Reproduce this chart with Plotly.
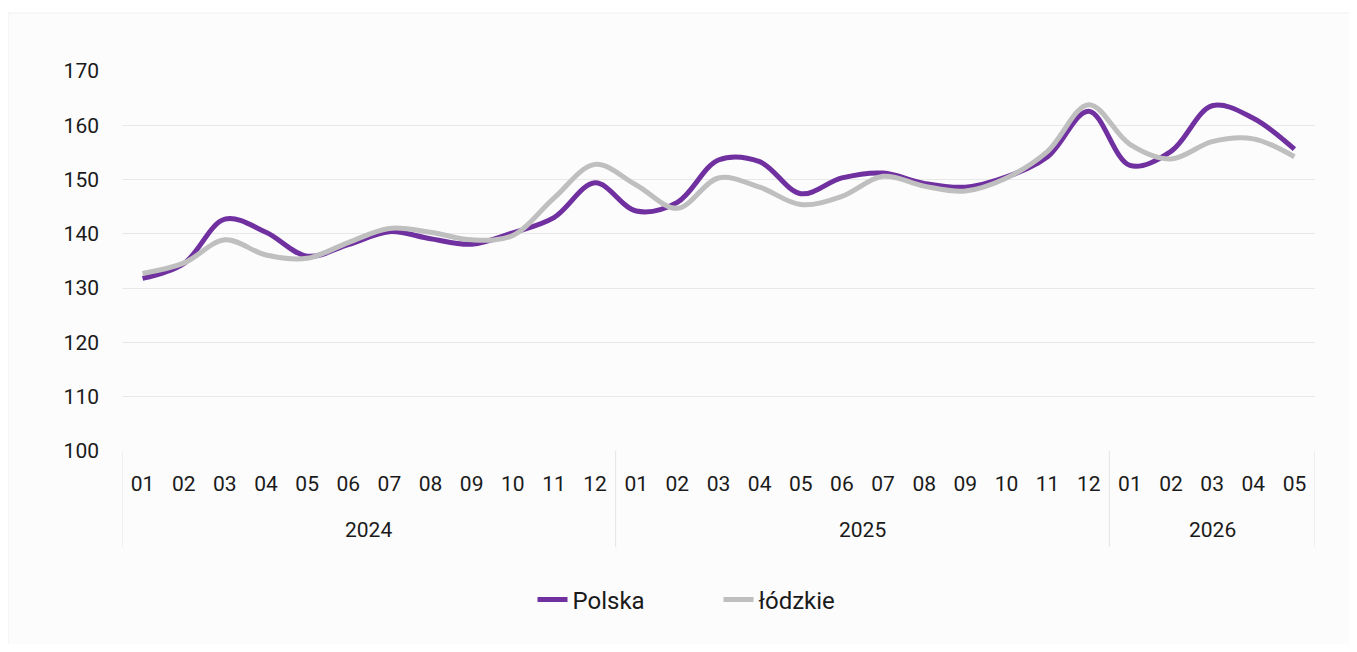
import plotly.graph_objects as go

years = ["2024"] * 12 + ["2025"] * 12 + ["2026"] * 5
months = ["01", "02", "03", "04", "05", "06", "07", "08", "09", "10", "11", "12",
          "01", "02", "03", "04", "05", "06", "07", "08", "09", "10", "11", "12",
          "01", "02", "03", "04", "05"]

polska = [131.8, 134.5, 142.7, 140.3, 135.9, 138.0, 140.4, 139.1, 138.1, 140.2, 143.0, 149.4,
          144.2, 145.8, 153.6, 153.3, 147.4, 150.3, 151.2, 149.3, 148.6, 150.5, 154.2, 162.6,
          152.6, 155.2, 163.6, 161.3, 155.6]
lodzkie = [132.7, 134.6, 138.9, 136.1, 135.5, 138.4, 141.0, 140.3, 138.9, 139.7, 146.6, 152.8,
           149.0, 144.7, 150.3, 148.6, 145.4, 146.9, 150.6, 148.8, 147.9, 150.3, 155.2, 163.8,
           156.5, 153.8, 157.0, 157.5, 154.2]

series_names = ["Polska", "łódzkie"]
colors = ["#7030A0", "#BFBFBF"]

cats = [f"{y}-{m}" for y, m in zip(years, months)]
year_labels = ["2024", "2025", "2026"]

FONT = "Roboto"
TXT = "#1a1a1a"

fig = go.Figure()
for name, vals, col in zip(series_names, [polska, lodzkie], colors):
    fig.add_trace(go.Scatter(
        x=cats, y=vals, name=name, mode="lines",
        line=dict(color=col, width=5, shape="spline", smoothing=1.0),
    ))

shapes = [dict(type="rect", xref="paper", yref="paper", x0=-0.0956, x1=1.0293,
               y0=-0.5105, y1=1.1526, fillcolor="#fcfcfc",
               line=dict(color="#f0f0f0", width=1), layer="below")]
annotations = []
bounds = [-0.5]
for yl in year_labels:
    idx = [i for i, y in enumerate(years) if y == yl]
    bounds.append(idx[-1] + 0.5)
    annotations.append(dict(x=(idx[0] + idx[-1]) / 2, xref="x", y=-0.208, yref="paper",
                            text=yl, showarrow=False, xanchor="center", yanchor="middle",
                            font=dict(family=FONT, size=21, color=TXT)))
for b in bounds:
    shapes.append(dict(type="line", xref="x", yref="paper", x0=b, x1=b, y0=0, y1=-0.2526,
                       line=dict(color="#e3e3e3", width=1)))

fig.update_layout(
    width=1341, height=636,
    paper_bgcolor="white", plot_bgcolor="rgba(0,0,0,0)",
    margin=dict(l=114, r=34, t=63, b=193),
    font=dict(family=FONT, size=21, color=TXT),
    showlegend=True,
    legend=dict(orientation="h", x=0.5, xanchor="center", y=-0.392, yanchor="middle",
                font=dict(size=24, color=TXT), bgcolor="rgba(0,0,0,0)",
                entrywidth=141, entrywidthmode="pixels"),
    xaxis=dict(type="category", range=[-0.5, len(cats) - 0.5], tickvals=cats, ticktext=months,
               showgrid=False, showline=False, zeroline=False, ticks="",
               ticklabelstandoff=18, tickfont=dict(size=21, color=TXT)),
    yaxis=dict(range=[100, 170], dtick=10, showgrid=True, gridcolor="#e8e8e8", gridwidth=1,
               zeroline=False, showline=False, ticks="", ticklabelstandoff=22,
               tickfont=dict(size=21, color=TXT)),
    shapes=shapes,
    annotations=annotations,
)

fig.write_html("out.html")
